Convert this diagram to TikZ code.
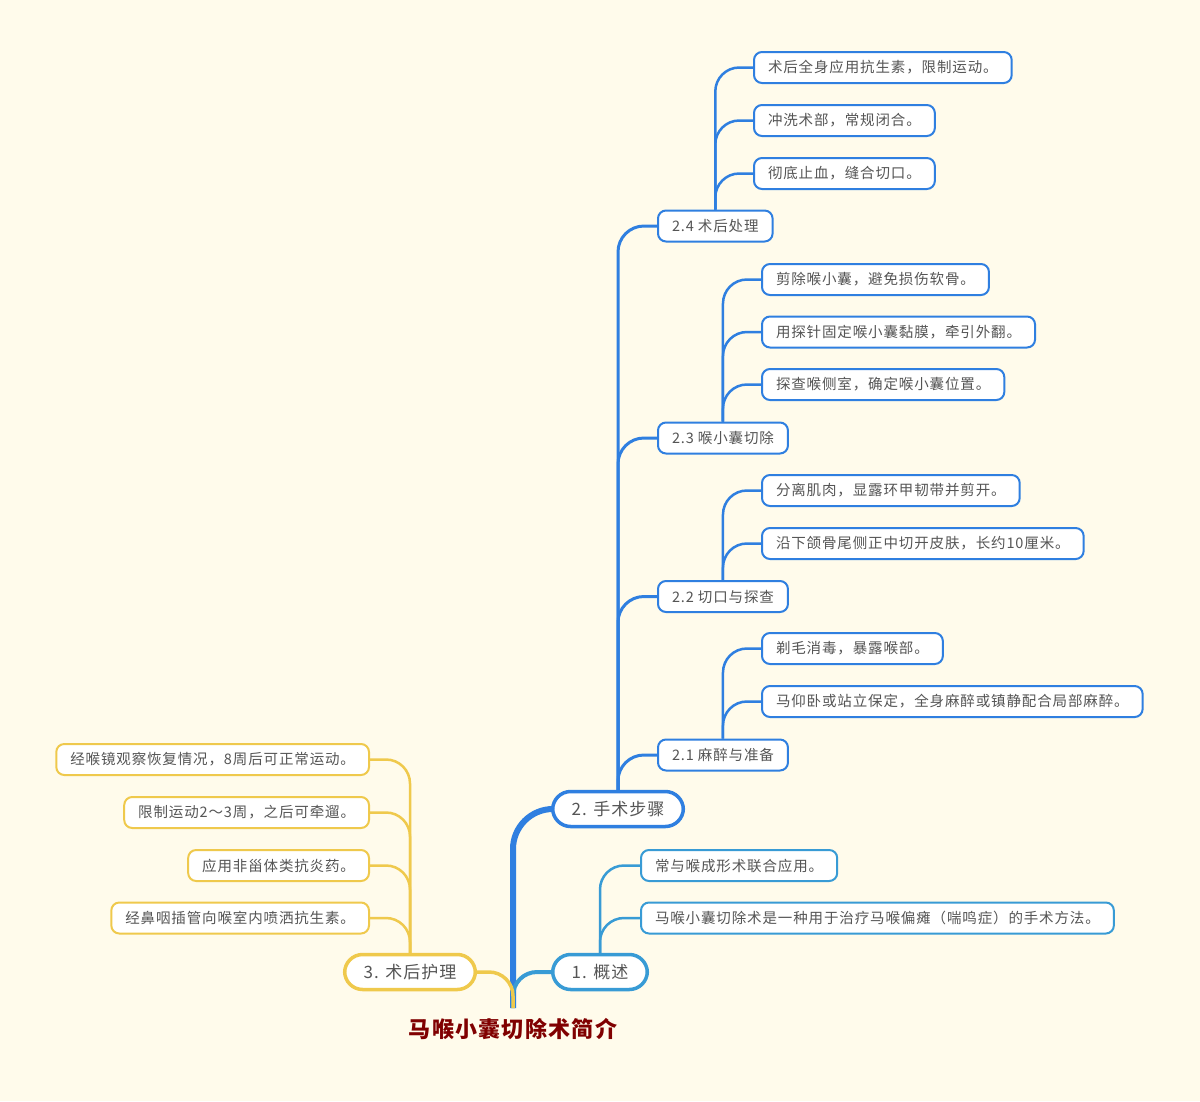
\documentclass[tikz,border=0pt]{standalone}
\usepackage{fontspec}
\setmainfont{Noto Sans CJK SC}[LetterSpace=6]
\definecolor{paper}{RGB}{255,251,235}
\definecolor{stepblue}{RGB}{47,127,224}
\definecolor{introblue}{RGB}{56,155,213}
\definecolor{careyellow}{RGB}{239,201,76}
\definecolor{txtgray}{RGB}{85,85,85}
\definecolor{titlered}{RGB}{128,0,0}
\begin{document}
\begin{tikzpicture}[
		x=1pt, y=-1pt,
		leaf/.style={draw, fill=white, rounded corners=8pt, line width=2pt, text=txtgray,
				font=\fontsize{14.5}{17}\selectfont, inner xsep=14pt, minimum height=31pt},
		topic/.style={draw, fill=white, rounded corners=18pt, line width=3.5pt, text=txtgray,
				font=\fontsize{17}{20}\selectfont, inner xsep=19pt, minimum height=35pt},
		link/.style={line width=2.5pt, rounded corners=24pt},
		branch/.style={line width=3pt, rounded corners=26pt}
	]
	\fill[paper] (0,0) rectangle (1200,1101);

	\node[font=\fontsize{22}{25}\selectfont\bfseries, text=titlered] (title) at (513,1029) {马喉小囊切除术简介};
	\coordinate (root) at (513,1008);

	\node[topic, draw=stepblue] (steps) at (618,809) {2. 手术步骤};
	\node[topic, draw=introblue] (intro) at (600,972) {1. 概述};
	\node[topic, draw=careyellow] (care) at (410,972) {3. 术后护理};

	\node[leaf, draw=stepblue, anchor=west] (s24) at (657,226) {2.4 术后处理};
	\node[leaf, draw=stepblue, anchor=west] (s23) at (657,438) {2.3 喉小囊切除};
	\node[leaf, draw=stepblue, anchor=west] (s22) at (657,596.5) {2.2 切口与探查};
	\node[leaf, draw=stepblue, anchor=west] (s21) at (657,755) {2.1 麻醉与准备};

	\node[leaf, draw=stepblue, anchor=west] (s24a) at (753,67.5) {术后全身应用抗生素，限制运动。};
	\node[leaf, draw=stepblue, anchor=west] (s24b) at (753,120.5) {冲洗术部，常规闭合。};
	\node[leaf, draw=stepblue, anchor=west] (s24c) at (753,173.5) {彻底止血，缝合切口。};
	\node[leaf, draw=stepblue, anchor=west] (s23a) at (761,279.5) {剪除喉小囊，避免损伤软骨。};
	\node[leaf, draw=stepblue, anchor=west] (s23b) at (761,332) {用探针固定喉小囊黏膜，牵引外翻。};
	\node[leaf, draw=stepblue, anchor=west] (s23c) at (761,384.5) {探查喉侧室，确定喉小囊位置。};
	\node[leaf, draw=stepblue, anchor=west] (s22a) at (761,490.5) {分离肌肉，显露环甲韧带并剪开。};
	\node[leaf, draw=stepblue, anchor=west] (s22b) at (761,543.5) {沿下颌骨尾侧正中切开皮肤，长约10厘米。};
	\node[leaf, draw=stepblue, anchor=west] (s21a) at (761,648.5) {剃毛消毒，暴露喉部。};
	\node[leaf, draw=stepblue, anchor=west] (s21b) at (761,701.5) {马仰卧或站立保定，全身麻醉或镇静配合局部麻醉。};

	\node[leaf, draw=introblue, anchor=west] (i1) at (640,865.5) {常与喉成形术联合应用。};
	\node[leaf, draw=introblue, anchor=west] (i2) at (640,918) {马喉小囊切除术是一种用于治疗马喉偏瘫（喘鸣症）的手术方法。};

	\node[leaf, draw=careyellow, anchor=east] (c1) at (370,759.5) {经喉镜观察恢复情况，8周后可正常运动。};
	\node[leaf, draw=careyellow, anchor=east] (c2) at (370,812.5) {限制运动2～3周，之后可牵遛。};
	\node[leaf, draw=careyellow, anchor=east] (c3) at (370,865.5) {应用非甾体类抗炎药。};
	\node[leaf, draw=careyellow, anchor=east] (c4) at (370,918) {经鼻咽插管向喉室内喷洒抗生素。};

	\draw[stepblue, line width=6pt, rounded corners=40pt] (root) |- (steps.west);
	\draw[introblue, line width=4pt, rounded corners=24pt] (root) |- (intro.west);
	\draw[careyellow, line width=3.5pt, rounded corners=24pt] (root) |- (care.east);

	\foreach \n in {s21,s22,s23,s24}
		\draw[stepblue, branch] (steps.north) |- (\n.west);
	\foreach \n in {s24a,s24b,s24c}
		\draw[stepblue, link] (s24.north) |- (\n.west);
	\foreach \n in {s23a,s23b,s23c}
		\draw[stepblue, link] (s23.north) |- (\n.west);
	\foreach \n in {s22a,s22b}
		\draw[stepblue, link] (s22.north) |- (\n.west);
	\foreach \n in {s21a,s21b}
		\draw[stepblue, link] (s21.north) |- (\n.west);
	\foreach \n in {i1,i2}
		\draw[introblue, link] (intro.north) |- (\n.west);
	\foreach \n in {c1,c2,c3,c4}
		\draw[careyellow, link] (care.north) |- (\n.east);
\end{tikzpicture}
\end{document}
